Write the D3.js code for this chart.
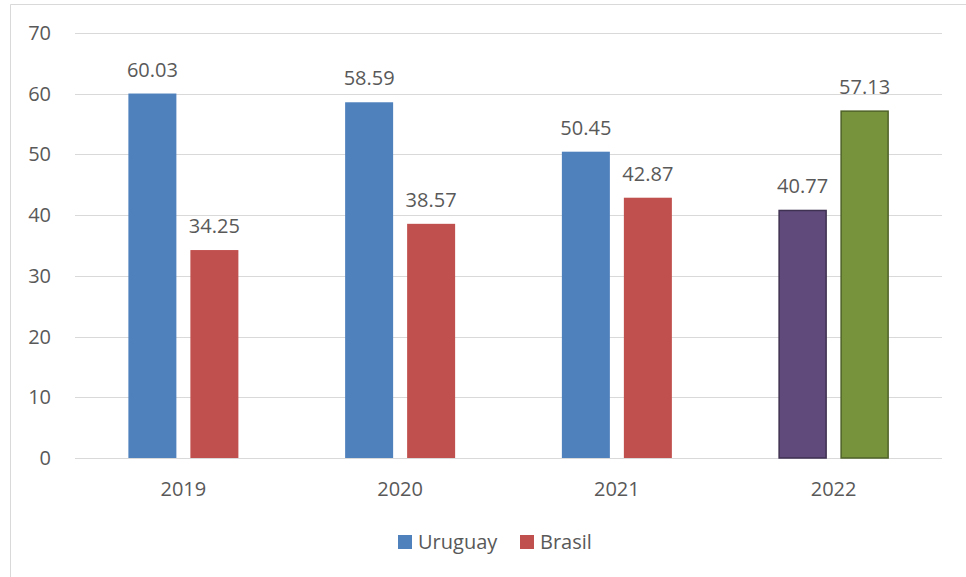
<!DOCTYPE html>
<html>
<head>
<meta charset="utf-8">
<script src="https://cdn.jsdelivr.net/npm/d3@7"></script>
<style>
  body { margin: 0; background: #fff; }
  text { font-family: "Open Sans", "Noto Sans", sans-serif; fill: #595959; }
</style>
</head>
<body>
<svg id="chart" width="966" height="577"></svg>
<script>
const years = ["2019", "2020", "2021", "2022"];
const series = ["Uruguay", "Brasil"];
const uruguay = [60.03, 58.59, 50.45, 40.77];
const brasil = [34.25, 38.57, 42.87, 57.13];
const yTicks = [0, 10, 20, 30, 40, 50, 60, 70];

// per-series colours, with the last year drawn in its own colours
const fills = { Uruguay: "#4F81BD", Brasil: "#C0504D" };
const fills2022 = { Uruguay: "#604A7B", Brasil: "#77933C" };
const strokes2022 = { Uruguay: "#3F3151", Brasil: "#4F6228" };

const svg = d3.select("#chart");
const margin = { top: 33, left: 75, right: 24, bottom: 119 };
const width = 966, height = 577;

// frame (only left/top visible in the crop)
svg.append("path")
    .attr("d", "M10.5,577V4.5H966")
    .attr("fill", "none")
    .attr("stroke", "#d9d9d9");

const y = d3.scaleLinear().domain([0, 70]).range([height - margin.bottom, margin.top]);
const x0 = d3.scaleBand().domain(years).range([margin.left, width - margin.right]).paddingInner(0.4925).paddingOuter(0.2463);
const x1 = d3.scaleBand().domain(series).range([0, x0.bandwidth()]).paddingInner(0.2258).paddingOuter(0);

// gridlines
svg.append("g").selectAll("line").data(yTicks).join("line")
    .attr("x1", margin.left).attr("x2", width - margin.right)
    .attr("y1", d => Math.round(y(d)) + 0.5).attr("y2", d => Math.round(y(d)) + 0.5)
    .attr("stroke", "#d9d9d9").attr("stroke-width", 1.2);

// y labels
svg.append("g").selectAll("text").data(yTicks).join("text")
    .attr("x", 51).attr("y", d => y(d)).attr("dy", "0.35em")
    .attr("text-anchor", "end").style("font-size", "20px")
    .text(d => d);

const rows = years.map((yr, i) => ({ year: yr, values: [
    { key: "Uruguay", value: uruguay[i] },
    { key: "Brasil", value: brasil[i] }
]}));

const groups = svg.append("g").selectAll("g").data(rows).join("g")
    .attr("transform", d => `translate(${x0(d.year)},0)`);

groups.selectAll("rect").data(d => d.values.map(v => ({ ...v, year: d.year }))).join("rect")
    .attr("x", d => x1(d.key) + (d.year === "2022" ? 0.5 : 0))
    .attr("width", d => x1.bandwidth() - (d.year === "2022" ? 1 : 0))
    .attr("y", d => y(d.value))
    .attr("height", d => y(0) - y(d.value))
    .attr("fill", d => d.year === "2022" ? fills2022[d.key] : fills[d.key])
    .attr("stroke", d => d.year === "2022" ? strokes2022[d.key] : "none")
    .attr("stroke-width", 1.5);

groups.selectAll("text").data(d => d.values).join("text")
    .attr("x", d => x1(d.key) + x1.bandwidth() / 2)
    .attr("y", d => y(d.value) - 17)
    .attr("text-anchor", "middle").style("font-size", "20px")
    .text(d => d3.format(".2f")(d.value));

// category axis labels
svg.append("g").selectAll("text").data(years).join("text")
    .attr("x", d => x0(d) + x0.bandwidth() / 2)
    .attr("y", 489).attr("dy", "0.35em")
    .attr("text-anchor", "middle").style("font-size", "20px")
    .text(d => d);

// legend
const legend = svg.append("g").attr("transform", "translate(398,542)");
const legendX = [0, 122];
series.forEach((s, i) => {
    const g = legend.append("g").attr("transform", `translate(${legendX[i]},0)`);
    g.append("rect").attr("x", 0).attr("y", -7).attr("width", 14).attr("height", 14).attr("fill", fills[s]);
    g.append("text").attr("x", 20).attr("y", 0).attr("dy", "0.35em").style("font-size", "20px").text(s);
});
</script>
</body>
</html>
